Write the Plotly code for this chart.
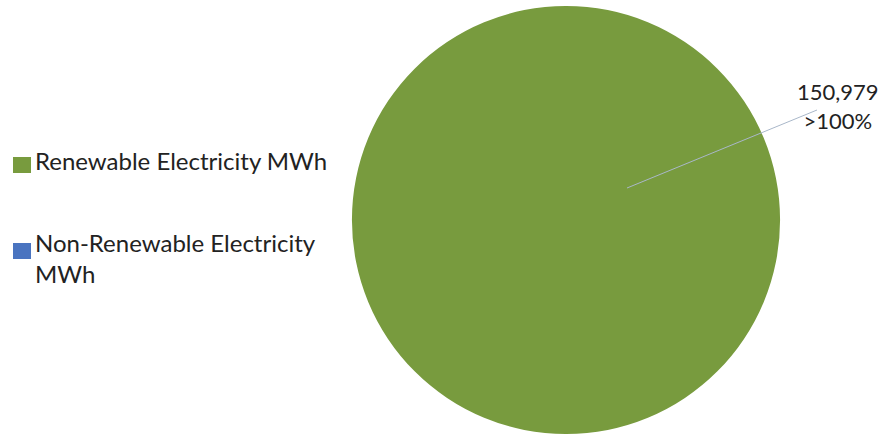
import plotly.graph_objects as go

# Electricity consumption split (MWh)
categories = ["Renewable Electricity MWh", "Non-Renewable Electricity MWh"]
legend_text = ["Renewable Electricity MWh", "Non-Renewable Electricity<br>MWh"]
values = [150979, 0]
colors = ["#789B3E", "#4A74C0"]
share_label = ">100%"

W, H = 885, 435
FONT = "Lato"
TEXT_COLOR = "#222222"

fig = go.Figure()

# Pie centred at (566, 220) px with ~214 px radius
cx, cy, r = 566, 220, 214
fig.add_trace(go.Pie(
    labels=categories,
    values=values,
    marker=dict(colors=colors, line=dict(width=0)),
    sort=False,
    direction="clockwise",
    textinfo="none",
    showlegend=False,
    domain=dict(x=[(cx - r) / W, (cx + r) / W],
                y=[(H - cy - r) / H, (H - cy + r) / H]),
))

# Data label with leader line
fig.add_shape(type="line", xref="paper", yref="paper",
              x0=627 / W, y0=1 - 188 / H, x1=817 / W, y1=1 - 110 / H,
              line=dict(color="#A9B7C9", width=1))
fig.add_annotation(
    xref="paper", yref="paper", x=838 / W, y=1 - 106 / H,
    xanchor="center", yanchor="middle", showarrow=False,
    text=f"{values[0]:,}<br>{share_label}", align="center",
    font=dict(family=FONT, size=22, color=TEXT_COLOR),
    bgcolor="rgba(255,255,255,0)",
)

# Legend on the left
legend_rows = [(157, 173, 161), (243, 259, 258)]
for (top, bot, mid), name, col in zip(legend_rows, legend_text, colors):
    fig.add_shape(type="rect", xref="paper", yref="paper",
                  x0=13 / W, x1=31 / W, y0=1 - bot / H, y1=1 - top / H,
                  fillcolor=col, line=dict(width=0))
    fig.add_annotation(
        xref="paper", yref="paper", x=33 / W, y=1 - mid / H,
        xanchor="left", yanchor="middle", showarrow=False,
        text=name, align="left",
        font=dict(family=FONT, size=24, color=TEXT_COLOR),
    )

fig.update_layout(
    width=W, height=H,
    margin=dict(l=0, r=0, t=0, b=0),
    paper_bgcolor="white", plot_bgcolor="white",
    font=dict(family=FONT),
)

fig.write_html("out.html")
